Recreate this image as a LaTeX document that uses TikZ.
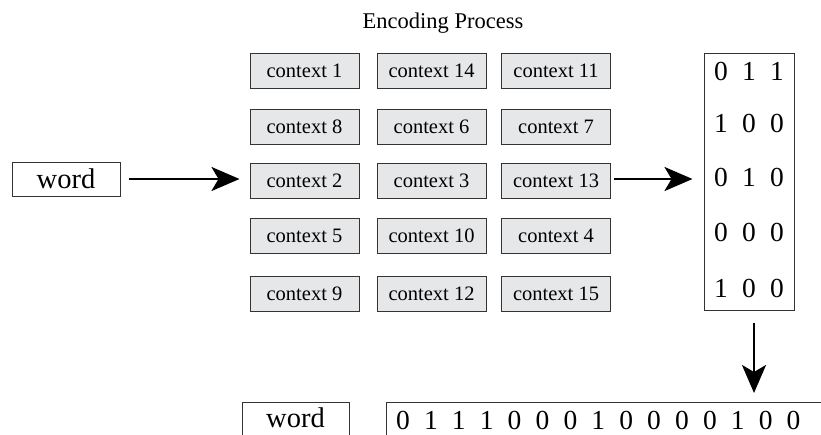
\documentclass[tikz,border=0pt]{standalone}
\usepackage{fontspec}
\setmainfont{Liberation Serif}
\usetikzlibrary{arrows.meta}
\definecolor{boxfill}{HTML}{E6E7E8}
\definecolor{edge}{HTML}{333333}
\tikzset{
  ctx/.style={draw=edge, line width=1pt, fill=boxfill, minimum width=109pt, minimum height=35pt, inner sep=0pt, font=\fontsize{20.5}{24}\selectfont},
  plainbox/.style={draw=edge, line width=1pt, inner sep=0pt},
  big/.style={font=\fontsize{28.5}{32}\selectfont, inner sep=0pt},
  digit/.style={font=\fontsize{27.5}{32}\selectfont, inner sep=0pt},
  conn/.style={line width=2.6pt, -{Stealth[length=28pt, width=24pt, inset=7pt]}}
}
\begin{document}
\begin{tikzpicture}[x=1pt, y=-1pt]
\useasboundingbox (0,0) rectangle (821,434);
\clip (0,0) rectangle (821,434);
\node[font=\fontsize{22.5}{26}\selectfont, inner sep=0pt, anchor=base] (title) at (443,28) {Encoding Process};
\node[plainbox, big, minimum width=108pt, minimum height=34pt] (wordL) at (66,179) {word};
\foreach \lab/\x/\y/\n in {1/304.5/70.5/c1, 14/431.5/70.5/c14, 11/556/70.5/c11,
  8/304.5/126.5/c8, 6/431.5/126.5/c6, 7/556/126.5/c7,
  2/304.5/180.5/c2, 3/431.5/180.5/c3, 13/556/180.5/c13,
  5/304.5/236/c5, 10/431.5/236/c10, 4/556/236/c4,
  9/304.5/293.5/c9, 12/431.5/293.5/c12, 15/556/293.5/c15}
  \node[ctx] (\n) at (\x,\y) {context \lab};
\node[plainbox, minimum width=90pt, minimum height=257pt] (mat) at (749,181.5) {};
\foreach \r/\y/\a/\b/\c in {1/71.5/0/1/1, 2/123/1/0/0, 3/177/0/1/0, 4/232.5/0/0/0, 5/288.5/1/0/0}{
  \node[digit] (m\r a) at (721,\y) {\a};
  \node[digit] (m\r b) at (749,\y) {\b};
  \node[digit] (m\r c) at (777,\y) {\c};
}
\draw[plainbox] (242,440) |- (349,402) -- (349,440);
\node[big] (wordB) at (295.5,418) {word};
\draw[plainbox] (386,440) |- (830,402);
\coordinate (bits) at (600,402);
\foreach \d [count=\i from 0] in {0,1,1,1,0,0,0,1,0,0,0,0,1,0,0}
  \node[digit] (b\i) at (403+27.9*\i,420) {\d};
\draw[conn, shorten <=8pt, shorten >=10pt] (wordL.east) -- (c2.west |- wordL.east);
\draw[conn, shorten <=3pt, shorten >=11pt] (c13.east |- wordL.east) -- (mat.west |- wordL.east);
\draw[conn, shorten <=12pt, shorten >=9pt] ([xshift=5pt]mat.south) -- ([xshift=5pt]mat.south |- bits);
\end{tikzpicture}
\end{document}
